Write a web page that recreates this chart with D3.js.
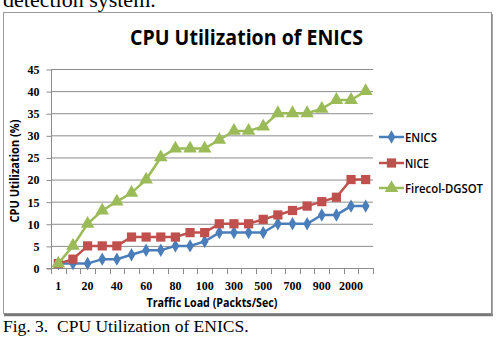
<!DOCTYPE html>
<html lang="en">
  <head>
    <meta charset="utf-8">
    <title>CPU Utilization of ENICS</title>
    <script src="https://cdn.jsdelivr.net/npm/d3@7/dist/d3.min.js"></script>
  </head>
  <style>
    body { margin: 0; background: #fff; }
    .axis text { font-family: "Liberation Serif", serif; font-weight: bold; font-size: 12px; fill: #000; }
  </style>
  <body>
    <div id="svg-area"></div>
    <script>
      const svg_width = 501;
      const svg_height = 353;

      // data
      const loads = ['1','10','20','30','40','50','60','70','80','90','100',
                     '200','300','400','500','600','700','800','900','1000','2000','3000'];
      const enics = [1,1,1,2,2,3,4,4,5,5,6,8,8,8,8,10,10,10,12,12,14,14];
      const nice = [1,2,5,5,5,7,7,7,7,8,8,10,10,10,11,12,13,14,15,16,20,20];
      const firecol = [1,5,10,13,15,17,20,25,27,27,27,29,31,31,32,35,35,35,36,38,38,40];
      const y_ticks = [0,5,10,15,20,25,30,35,40,45];
      const series_names = ['ENICS','NICE','Firecol-DGSOT'];
      const colors = ['#4a7ebb','#c0504d','#9bbb59'];

      const svg = d3.select('#svg-area')
        .append('svg')
        .attr('width', svg_width)
        .attr('height', svg_height);

      // text above and below the figure (the top line is cut by the page edge)
      svg.append('text')
        .attr('x', 3).attr('y', 7)
        .style('font-family', '"Liberation Serif", serif')
        .style('font-size', '22px')
        .text('detection system.');

      // figure frame
      svg.append('rect')
        .attr('x', 3.5).attr('y', 12.5)
        .attr('width', 488).attr('height', 301)
        .attr('fill', '#fff')
        .attr('stroke', '#9a9a9a');
      svg.append('line')
        .attr('x1', 4).attr('x2', 493).attr('y1', 315).attr('y2', 315)
        .attr('stroke', '#777').attr('stroke-width', 2.5);
      svg.append('line')
        .attr('x1', 492).attr('x2', 492).attr('y1', 14).attr('y2', 316)
        .attr('stroke', '#888').attr('stroke-width', 1.5);

      svg.append('text')
        .attr('x', 3).attr('y', 332)
        .style('font-family', '"Liberation Serif", serif')
        .style('font-size', '17.5px')
        .text('Fig. 3.');
      svg.append('text')
        .attr('x', 57).attr('y', 332)
        .style('font-family', '"Liberation Serif", serif')
        .style('font-size', '17.5px')
        .text('CPU Utilization of ENICS.');

      // scales
      const x_scale = d3.scaleBand()
        .domain(loads)
        .range([51, 373]);
      const y_scale = d3.scaleLinear()
        .domain([0, 45])
        .range([268, 69]);
      const cx = (d, i) => x_scale(loads[i]) + x_scale.bandwidth() / 2;

      // gridlines
      svg.append('g')
        .selectAll('line')
        .data(y_ticks.slice(1))
        .enter()
        .append('line')
        .attr('x1', 51).attr('x2', 373)
        .attr('y1', d => y_scale(d) + 0.5)
        .attr('y2', d => y_scale(d) + 0.5)
        .attr('stroke', '#8c8c8c');

      // axes
      const y_axis = d3.axisLeft(y_scale)
        .tickValues(y_ticks)
        .tickSize(5)
        .tickPadding(7);
      svg.append('g')
        .attr('class', 'axis')
        .attr('transform', 'translate(51.5,0.5)')
        .call(y_axis)
        .call(g => g.select('.domain').attr('stroke', '#8c8c8c').attr('d', 'M-5,' + y_scale(0) + 'H0V' + y_scale(45)))
        .call(g => g.selectAll('.tick line').attr('stroke', '#8c8c8c'));

      const x_axis = d3.axisBottom(x_scale)
        .tickSize(0)
        .tickPadding(13)
        .tickFormat((d, i) => (i % 2 === 0 ? d : ''));
      svg.append('g')
        .attr('class', 'axis')
        .attr('transform', 'translate(0,268.5)')
        .call(x_axis)
        .call(g => g.select('.domain').attr('stroke', '#8c8c8c').attr('d', 'M51,0H373'));

      // ticks between categories
      svg.append('g')
        .selectAll('line')
        .data(loads.concat(['end']))
        .enter()
        .append('line')
        .attr('x1', (d, i) => Math.round(51 + i * x_scale.step()) + 0.5)
        .attr('x2', (d, i) => Math.round(51 + i * x_scale.step()) + 0.5)
        .attr('y1', 268).attr('y2', 274)
        .attr('stroke', '#8c8c8c');

      // titles
      svg.append('text')
        .attr('x', 246.5).attr('y', 45)
        .attr('text-anchor', 'middle')
        .attr('textLength', 233).attr('lengthAdjust', 'spacingAndGlyphs')
        .style('font-family', '"Open Sans", sans-serif')
        .style('font-weight', 'bold')
        .style('font-size', '22px')
        .text('CPU Utilization of ENICS');

      svg.append('text')
        .attr('x', 212).attr('y', 307)
        .attr('text-anchor', 'middle')
        .attr('textLength', 131).attr('lengthAdjust', 'spacingAndGlyphs')
        .style('font-family', '"Open Sans", sans-serif')
        .style('font-weight', 'bold')
        .style('font-size', '12px')
        .text('Traffic Load (Packts/Sec)');

      svg.append('text')
        .attr('transform', 'translate(19,171) rotate(-90)')
        .attr('text-anchor', 'middle')
        .attr('textLength', 103).attr('lengthAdjust', 'spacingAndGlyphs')
        .style('font-family', '"Open Sans", sans-serif')
        .style('font-weight', 'bold')
        .style('font-size', '12px')
        .text('CPU Utilization (%)');

      // lines and markers
      const all_series = [enics, nice, firecol];
      const line = d3.line().x(cx).y(d => y_scale(d));
      const shapes = [d3.symbolDiamond, d3.symbolSquare, d3.symbolTriangle];
      const sizes = [52, 85, 80];

      all_series.forEach((vals, k) => {
        svg.append('path')
          .datum(vals)
          .attr('d', line)
          .attr('fill', 'none')
          .attr('stroke', colors[k])
          .attr('stroke-width', 2.5);
        svg.append('g')
          .selectAll('path')
          .data(vals)
          .enter()
          .append('path')
          .attr('d', d3.symbol().type(shapes[k]).size(sizes[k]))
          .attr('transform', (d, i) => `translate(${cx(d, i)},${y_scale(d)})`)
          .attr('fill', colors[k]);
      });

      // legend
      const legend_y = [137, 163, 188];
      const legend = svg.append('g')
        .selectAll('g')
        .data(series_names)
        .enter()
        .append('g')
        .attr('transform', (d, i) => `translate(379,${legend_y[i]})`);
      legend.append('line')
        .attr('x1', 0).attr('x2', 25)
        .attr('stroke', (d, i) => colors[i])
        .attr('stroke-width', 2.5);
      legend.append('path')
        .attr('d', (d, i) => d3.symbol().type(shapes[i]).size(sizes[i])())
        .attr('transform', 'translate(12.5,0)')
        .attr('fill', (d, i) => colors[i]);
      legend.append('text')
        .attr('x', 26).attr('y', 4.5)
        .attr('textLength', (d, i) => [32, 24, 78][i])
        .attr('lengthAdjust', 'spacingAndGlyphs')
        .style('font-family', '"Open Sans", sans-serif')
        .style('font-weight', '600')
        .style('font-size', '12.5px')
        .text(d => d);
    </script>
  </body>
</html>
